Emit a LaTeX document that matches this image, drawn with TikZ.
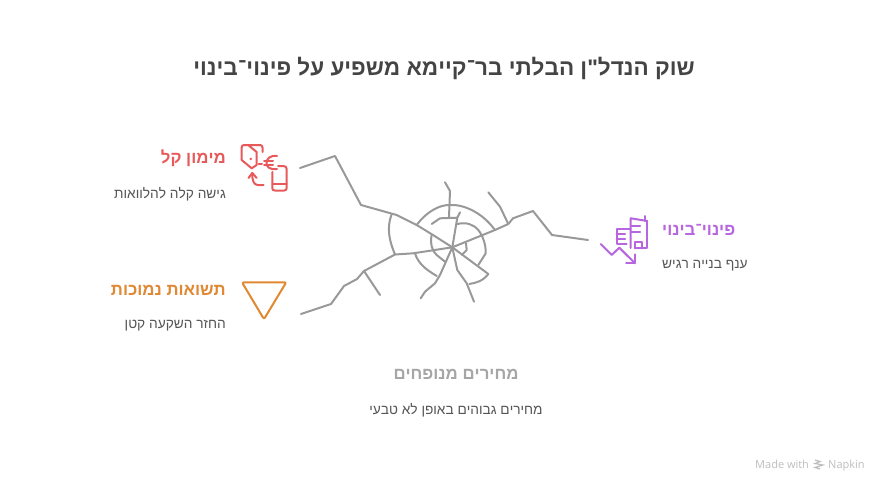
\documentclass[tikz,border=0pt]{standalone}
\usepackage{fontspec}
\setmainfont{Liberation Sans}
\newfontfamily\plainfont{Liberation Sans}
\newfontfamily\latinfont{Open Sans}
\TeXXeTstate=1
\definecolor{titlegray}{RGB}{68,68,68}
\definecolor{bodygray}{RGB}{85,85,85}
\definecolor{crackgray}{RGB}{153,153,153}
\definecolor{fadegray}{RGB}{166,166,166}
\definecolor{loanred}{RGB}{232,90,90}
\definecolor{yieldorange}{RGB}{224,136,50}
\definecolor{renewpurple}{RGB}{184,102,224}
\definecolor{markgray}{RGB}{190,190,190}
\tikzset{
  titletext/.style={font=\plainfont\fontsize{22.5}{27}\selectfont\bfseries, text=titlegray, inner sep=0pt},
  headtext/.style={font=\fontsize{16.8}{20}\selectfont\bfseries, inner sep=0pt},
  subtext/.style={font=\fontsize{13.7}{16}\selectfont, text=bodygray, inner sep=0pt},
  crack/.style={draw=crackgray, line width=2pt, line join=round, line cap=round},
  iconline/.style={line width=2pt, line join=round, line cap=round},
  marktext/.style={font=\fontsize{11}{13}\selectfont\latinfont, text=markgray, inner sep=0pt}
}
\begin{document}
\begin{tikzpicture}[x=1pt,y=-1pt]%
\useasboundingbox (0, 0) rectangle (888, 492);%
\fill[white] (0, 0) rectangle (888, 492);%
\node[titletext] (titlenode) at (444, 68) {\beginR שוק הנדל"ן הבלתי בר־קיימא משפיע על פינוי־בינוי\endR};%
% left column
\node[headtext, text=loanred, anchor=east] (loanhead) at (226, 158) {\beginR מימון קל\endR};%
\node[subtext, anchor=east] (loansub) at (226, 194) {\beginR גישה קלה להלוואות\endR};%
\node[headtext, text=yieldorange, anchor=east] (yieldhead) at (226, 290) {\beginR תשואות נמוכות\endR};%
\node[subtext, anchor=east] (yieldsub) at (226, 326) {\beginR החזר השקעה קטן\endR};%
% right column
\node[headtext, text=renewpurple, anchor=west] (renewhead) at (662, 230) {\beginR פינוי־בינוי\endR};%
\node[subtext, anchor=west] (renewsub) at (662, 266) {\beginR ענף בנייה רגיש\endR};%
% bottom
\node[headtext, text=fadegray] (pricehead) at (456, 374) {\beginR מחירים מנופחים\endR};%
\node[subtext] (pricesub) at (456, 410) {\beginR מחירים גבוהים באופן לא טבעי\endR};%
% cracks
\coordinate (hub) at (452.3, 247.3);%
\draw[crack] (300, 168) -- (335, 156) -- (361, 205) -- (396.7, 215) -- (416.7, 225) -- (433, 235) -- (hub);%
\draw[crack] (301, 314) -- (331, 304) -- (344, 286) -- (357, 279) -- (364, 271) -- (395, 254.5) -- (413.3, 253.3) -- (hub);%
\draw[crack] (364, 271) -- (380, 295);%
\draw[crack] (391.7, 214) .. controls (386.5, 228) and (389, 240) .. (395, 254.5);%
\draw[crack] (hub) -- (495, 230) -- (508.3, 224) -- (513, 218.3) -- (533, 211) -- (552, 235) -- (588, 240);%
\draw[crack] (508.3, 224) -- (500, 206.7) -- (488.3, 192.3);%
\draw[crack] (445, 182.3) -- (450, 191) -- (449, 217);%
\draw[crack] (431.7, 224) -- (440, 218.3) -- (457.3, 217.7);%
\draw[crack] (460, 212.3) -- (457.3, 217.7) -- (hub);%
\draw[crack] (416.7, 225) .. controls (427, 211) and (440, 205) .. (449, 205) .. controls (462, 204) and (481, 211) .. (495, 230);%
\draw[crack] (457.3, 224) .. controls (466, 222) and (473, 224) .. (478.3, 230) .. controls (483, 236) and (486, 245) .. (485.7, 253.3) -- (478.3, 265);%
\draw[crack] (431.7, 234.3) .. controls (430, 244) and (432, 251) .. (436.7, 255) -- (445, 261.7);%
\draw[crack] (415, 253.3) .. controls (418, 263) and (425, 269) .. (436.7, 276);%
\draw[crack] (466, 243.3) -- (466.7, 250) -- (461.7, 255);%
\draw[crack] (hub) -- (440, 275) -- (435, 283.3) -- (425, 291.7) -- (420.7, 298.3);%
\draw[crack] (hub) -- (457.3, 270) -- (466.7, 283.3) -- (474, 301.7);%
\draw[crack] (hub) -- (488.3, 274) .. controls (483, 281) and (476, 283) .. (469.3, 284);%
% euro icon
\begin{scope}[draw=loanred, iconline]%
\draw (262.5, 152) -- (262.5, 147.5) .. controls (262.5, 146) and (261.5, 145) .. (260, 145) -- (244, 145) .. controls (242.5, 145) and (241.7, 146) .. (241.7, 147.5) -- (241.7, 160) -- (251.7, 168.3) -- (256.7, 165) -- (256.7, 152) -- (248, 145);%
\fill[loanred] (250.7, 159) circle (1.3);%
\draw (258.5, 163.5) -- (262, 163.5);%
\draw (264, 161) -- (273, 161);%
\draw (264, 165) -- (273, 165);%
\draw (277, 156) .. controls (270, 155) and (266.5, 159) .. (266.5, 163) .. controls (266.5, 167) and (270, 170) .. (277, 169);%
\draw (278, 166) -- (283, 166) .. controls (285.5, 166) and (286.7, 167) .. (286.7, 169) -- (286.7, 188) .. controls (286.7, 190) and (285.5, 190.5) .. (284, 190.5) -- (275, 190.5) .. controls (273, 190.5) and (272.3, 190) .. (272.3, 188) -- (272.3, 172);%
\draw (272.3, 183.5) -- (286.7, 183.5);%
\draw (263.5, 185) -- (258, 185) .. controls (254, 185) and (252, 181) .. (252.3, 173);%
\draw (248.5, 178) -- (252.3, 173) -- (256.7, 178);%
\end{scope}%
% triangle icon
\draw[draw=yieldorange, iconline] (244, 282.3) -- (284.5, 282.3) .. controls (285.5, 282.3) and (285.8, 283) .. (285.2, 284) -- (265, 317.5) .. controls (264.3, 318.5) and (263.7, 318.5) .. (263, 317.5) -- (243, 284) .. controls (242.4, 283) and (243, 282.3) .. (244, 282.3) -- cycle;%
% building icon
\begin{scope}[draw=renewpurple, iconline]%
\draw (630.7, 248) -- (630.7, 218.3) -- (647.3, 221);%
\draw (645, 216) -- (645, 221);%
\draw (647.3, 221) -- (647.3, 248.3) -- (635, 248.3);%
\draw (630.7, 225.7) -- (640, 225.7);%
\draw (630.7, 232) -- (640, 232);%
\draw (630.7, 229) -- (616.7, 229) -- (616.7, 244.3) -- (626.7, 244.3);%
\draw (616.7, 234.3) -- (625, 234.3);%
\draw (616.7, 239.3) -- (625, 239.3);%
\draw (635, 248.3) -- (635, 242.3) -- (641.7, 242.3) -- (641.7, 248.3);%
\draw (600.7, 244) -- (611.7, 255) -- (619.3, 247.7) -- (635, 263.3);%
\draw (626, 263.3) -- (635, 263.3) -- (635, 254.3);%
\end{scope}%
% credit line
\node[marktext, anchor=base west] (madewith) at (755, 468.5) {Made with};%
\node[marktext, anchor=base west] (napkin) at (828, 468.5) {Napkin};%
\draw[draw=markgray, line width=1.2pt] (815, 460) -- (820, 461.5) -- (815, 463.5) -- (823, 465) -- (815, 467.5) -- (820, 469);%
\end{tikzpicture}%
\end{document}
